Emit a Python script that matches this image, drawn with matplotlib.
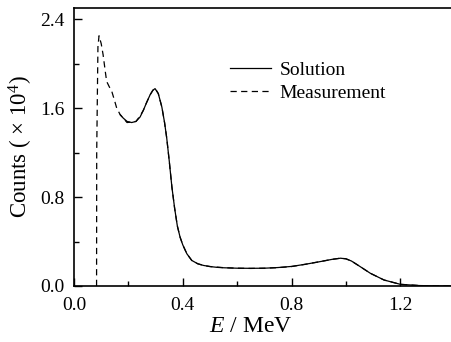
import matplotlib
matplotlib.use("Agg")
import matplotlib.pyplot as plt
from matplotlib.ticker import MultipleLocator, FormatStrFormatter

plt.rcParams['font.family'] = ['Liberation Serif', 'DejaVu Serif']
plt.rcParams['mathtext.fontset'] = 'custom'
plt.rcParams['mathtext.rm'] = 'Liberation Serif'
plt.rcParams['mathtext.it'] = 'Liberation Serif:italic'

# Measurement (x 10^4 counts)
E_meas = [0.083, 0.0835, 0.088, 0.092, 0.10, 0.107, 0.115, 0.12, 0.13, 0.139, 0.15,
          0.157, 0.17, 0.181, 0.195, 0.212, 0.228, 0.243, 0.255, 0.267, 0.28, 0.29,
          0.298, 0.31, 0.323, 0.333, 0.341, 0.35, 0.36, 0.37, 0.38, 0.39, 0.40,
          0.415, 0.433, 0.455, 0.476, 0.50, 0.525, 0.55, 0.60, 0.65, 0.70, 0.75,
          0.80, 0.85, 0.90, 0.95, 0.98, 1.00, 1.02, 1.05, 1.09, 1.14, 1.20, 1.27,
          1.33, 1.39]
C_meas = [0.0, 1.2, 2.15, 2.25, 2.18, 2.08, 1.93, 1.84, 1.79, 1.75, 1.66,
          1.60, 1.54, 1.51, 1.47, 1.475, 1.48, 1.53, 1.58, 1.65, 1.72, 1.76,
          1.78, 1.73, 1.61, 1.47, 1.33, 1.13, 0.89, 0.70, 0.54, 0.44, 0.37,
          0.29, 0.23, 0.20, 0.185, 0.175, 0.17, 0.165, 0.16, 0.158, 0.16, 0.165,
          0.175, 0.195, 0.217, 0.24, 0.25, 0.245, 0.225, 0.178, 0.114, 0.054, 0.015, 0.004,
          0.001, 0.0]

# Solution
E_sol = [0.17, 0.181, 0.195, 0.212, 0.228, 0.243, 0.255, 0.267, 0.28, 0.29,
         0.298, 0.31, 0.323, 0.333, 0.341, 0.35, 0.36, 0.37, 0.38, 0.39, 0.40,
         0.415, 0.433, 0.455, 0.476, 0.50, 0.525, 0.55, 0.60, 0.65, 0.70, 0.75,
         0.80, 0.85, 0.90, 0.95, 0.98, 1.00, 1.02, 1.05, 1.09, 1.14, 1.20, 1.27,
         1.33, 1.39]
C_sol = [1.54, 1.51, 1.48, 1.47, 1.48, 1.52, 1.58, 1.65, 1.72, 1.76,
         1.775, 1.73, 1.61, 1.47, 1.33, 1.13, 0.89, 0.70, 0.54, 0.44, 0.37,
         0.29, 0.23, 0.20, 0.185, 0.175, 0.168, 0.164, 0.16, 0.159, 0.16, 0.166,
         0.176, 0.195, 0.217, 0.24, 0.25, 0.244, 0.225, 0.178, 0.114, 0.054, 0.015, 0.004,
         0.001, 0.0]

fig = plt.figure(figsize=(4.52, 3.42), dpi=100)
ax = fig.add_axes([74/452, 56/342, 378/452, 278/342])

ax.plot(E_sol, C_sol, color='black', lw=0.9, label='Solution')
ax.plot(E_meas, C_meas, color='black', lw=0.9, ls=(0, (5, 3.5)), label='Measurement')

ax.set_xlim(0, 1.39)
ax.set_ylim(0, 2.5)
ax.xaxis.set_major_locator(MultipleLocator(0.4))
ax.xaxis.set_minor_locator(MultipleLocator(0.2))
ax.yaxis.set_major_locator(MultipleLocator(0.8))
ax.yaxis.set_minor_locator(MultipleLocator(0.4))
ax.xaxis.set_major_formatter(FormatStrFormatter('%.1f'))
ax.yaxis.set_major_formatter(FormatStrFormatter('%.1f'))

ax.spines['right'].set_visible(False)
for s in ['left', 'bottom', 'top']:
    ax.spines[s].set_linewidth(1.2)
ax.tick_params(which='major', direction='in', length=6, width=1.0, labelsize=14,
               top=False, right=False)
ax.tick_params(axis='y', which='major', pad=7)
ax.tick_params(axis='x', which='major', pad=8)
ax.tick_params(which='minor', direction='in', length=3.5, width=1.0, top=False, right=False)

ax.set_xlabel('$E$ / MeV', fontsize=17)
ax.xaxis.set_label_coords((251 - 74) / 378, -(327 - 286) / 278, transform=ax.transAxes)
ax.xaxis.label.set_va('center')
ax.set_ylabel('Counts ( × 10$^4$)', fontsize=16.5)
ax.yaxis.set_label_coords(-(74 - 21) / 378, 0.5, transform=ax.transAxes)
ax.yaxis.label.set_va('center')

leg = ax.legend(loc='upper left', bbox_to_anchor=(230/452, 1 - 61/342),
                bbox_transform=fig.transFigure, frameon=False, fontsize=14,
                handlelength=2.1, handletextpad=0.45, labelspacing=0.3,
                borderpad=0, borderaxespad=0)

fig.savefig('out.png', dpi=100)
